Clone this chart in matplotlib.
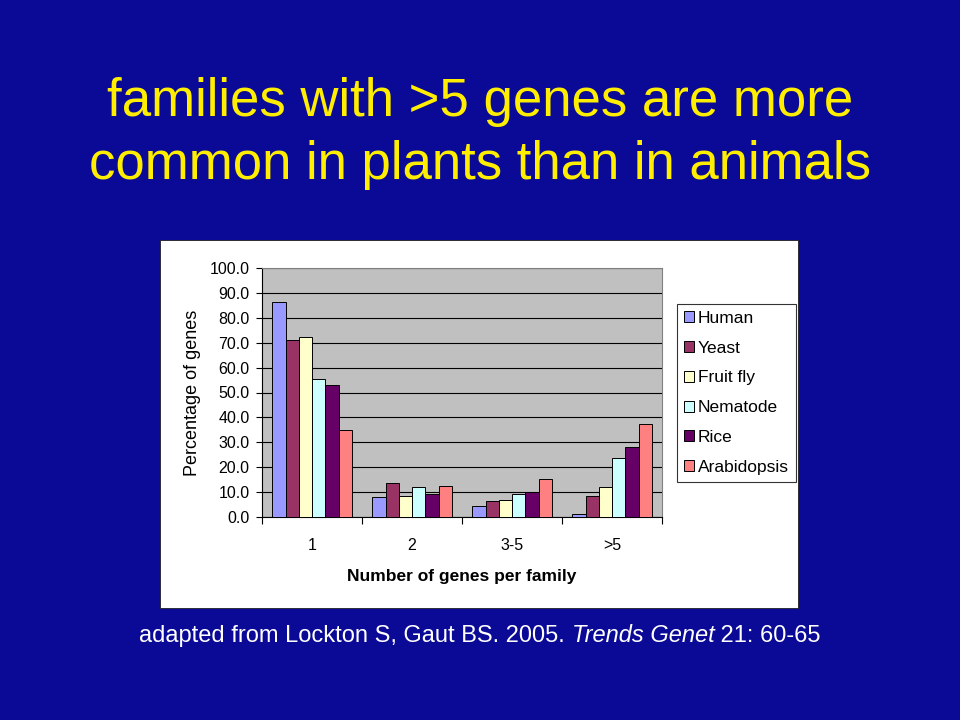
import matplotlib
matplotlib.use("Agg")
import matplotlib.pyplot as plt
from matplotlib.patches import Rectangle
import numpy as np

categories = ["1", "2", "3-5", ">5"]
series_names = ["Human", "Yeast", "Fruit fly", "Nematode", "Rice", "Arabidopsis"]
human = [86.3, 8.0, 4.4, 1.2]
yeast = [71.1, 13.7, 6.4, 8.6]
fruit_fly = [72.3, 8.6, 6.8, 12.0]
nematode = [55.4, 12.0, 9.2, 23.7]
rice = [53.0, 9.4, 9.9, 28.2]
arabidopsis = [34.9, 12.4, 15.4, 37.3]
series_values = [human, yeast, fruit_fly, nematode, rice, arabidopsis]
colors = ["#9999FF", "#993366", "#FFFFCC", "#CCFFFF", "#660066", "#FF8080"]
yticks = [0, 10, 20, 30, 40, 50, 60, 70, 80, 90, 100]

plt.rcParams['font.family'] = ['Liberation Sans', 'DejaVu Sans']

W, H = 960, 720
fig = plt.figure(figsize=(9.6, 7.2), dpi=100)
fig.patch.set_facecolor("#0A0A96")

def fx(px):
    return px / W

def fy(py):
    return 1 - py / H

# white chart box
fig.patches.append(Rectangle((fx(160), fy(608)), fx(798) - fx(160), fy(240) - fy(608),
                             transform=fig.transFigure, facecolor="white",
                             edgecolor="#202020", linewidth=0.6, zorder=0))

# title
fig.text(0.5, fy(102), "families with >5 genes are more", ha="center", va="center",
         color="#FFEE00", fontsize=38)
fig.text(0.5, fy(165), "common in plants than in animals", ha="center", va="center",
         color="#FFEE00", fontsize=38)

ax = fig.add_axes([fx(262), fy(517), fx(662) - fx(262), fy(268) - fy(517)])
ax.set_facecolor("#C0C0C0")
ax.set_zorder(2)

n = len(series_names)
bw = 0.1325
x = np.arange(len(categories)) + 0.5
for j, (name, vals, c) in enumerate(zip(series_names, series_values, colors)):
    ax.bar(x + (j - (n - 1) / 2) * bw, vals, width=bw, color=c, edgecolor="black",
           linewidth=0.7, label=name, zorder=3)

ax.set_xlim(0, 4)
ax.set_ylim(0, 100)
ax.set_yticks(yticks)
ax.set_yticklabels([f"{v:.1f}" for v in yticks], fontsize=11.5)
ax.yaxis.grid(True, color="black", linewidth=0.8, zorder=1)
ax.set_axisbelow(True)
ax.set_xticks([0, 1, 2, 3, 4])
ax.set_xticklabels([])
ax.set_xticks(x, minor=True)
ax.set_xticklabels(categories, minor=True, fontsize=11.5)
ax.tick_params(axis="x", which="minor", length=0, pad=15)
ax.tick_params(axis="x", which="major", direction="out", length=5, width=0.8)
ax.tick_params(axis="y", direction="out", length=4, width=0.8, pad=5)
for s in ["left", "bottom"]:
    ax.spines[s].set_color("black")
    ax.spines[s].set_linewidth(0.8)
for s in ["top", "right"]:
    ax.spines[s].set_color("#808080")
    ax.spines[s].set_linewidth(0.8)

ax.set_ylabel("Percentage of genes", fontsize=13, labelpad=6)
ax.set_xlabel("Number of genes per family", fontsize=12.5, fontweight="bold", labelpad=12)

leg = fig.legend(loc="upper left", bbox_to_anchor=(fx(677), fy(304)), frameon=True,
                 fancybox=False, edgecolor="black", fontsize=12.5, handlelength=0.6,
                 handleheight=0.6, handletextpad=0.2, labelspacing=0.85,
                 borderpad=0.4, borderaxespad=0)
leg.get_frame().set_linewidth(0.8)
leg.set_zorder(5)

# caption with italic part
fig.canvas.draw()
r = fig.canvas.get_renderer()
parts = [("adapted from Lockton S, Gaut BS. 2005. ", "normal"),
         ("Trends Genet", "italic"),
         (" 21: 60-65", "normal")]
texts = []
widths = []
for s, st in parts:
    t = fig.text(0, fy(636), s, fontsize=17, style=st, color="white", va="center", ha="left")
    texts.append(t)
    widths.append(t.get_window_extent(r).width)
total = sum(widths)
start = 480 - total / 2
for t, w in zip(texts, widths):
    t.set_x(fx(start))
    start += w

fig.savefig("out.png", dpi=100, facecolor=fig.get_facecolor())
